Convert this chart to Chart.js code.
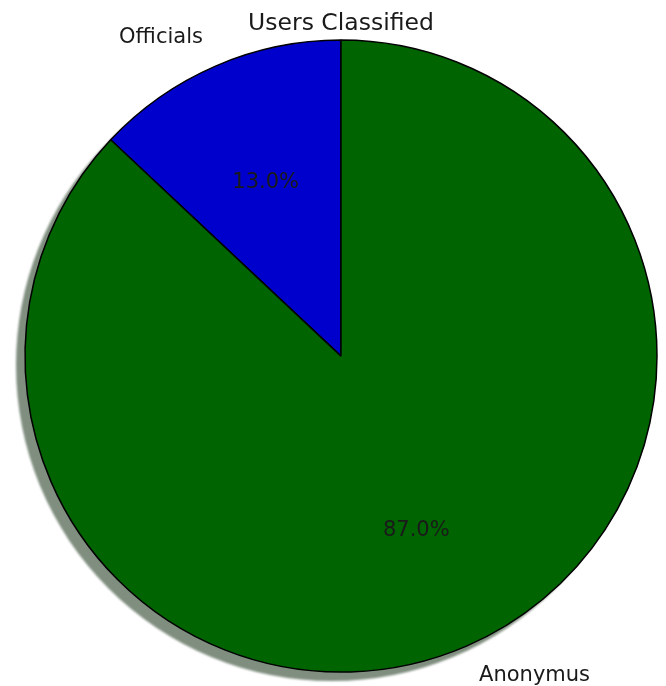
<!DOCTYPE html>
<html>
<head>
<meta charset="utf-8">
<script src="https://cdn.jsdelivr.net/npm/chart.js@4/dist/chart.umd.min.js"></script>
<style>
  html, body { margin: 0; padding: 0; background: #fff; }
  #wrap { width: 666px; height: 686px; }
</style>
</head>
<body>
<div id="wrap"><canvas id="grafico"></canvas></div>
<script>
const categorias = ['Officials', 'Anonymus'];
const valores = [13, 87];
const cores = ['#0000cd', '#006400'];

const total = valores.reduce((a, b) => a + b, 0);
// primeira fatia termina no topo, abrindo para a esquerda
const rotacao = -(valores[0] / total) * 360;

// sombra deslocada para baixo e para a esquerda, por baixo das fatias
const sombra = {
    id: 'sombra',
    beforeDatasetsDraw(chart) {
        const ctx = chart.ctx;
        const arcs = chart.getDatasetMeta(0).data;
        ctx.save();
        ctx.filter = 'blur(1px)';
        ctx.fillStyle = 'rgba(0, 30, 0, 0.5)';
        arcs.forEach(a => {
            const p = a.getProps(['x', 'y', 'startAngle', 'endAngle', 'outerRadius']);
            ctx.beginPath();
            ctx.moveTo(p.x - 9, p.y + 9);
            ctx.arc(p.x - 9, p.y + 9, p.outerRadius, p.startAngle, p.endAngle);
            ctx.closePath();
            ctx.fill();
        });
        ctx.restore();
    }
};

// nomes fora do círculo e percentuais dentro das fatias
const rotulos = {
    id: 'rotulos',
    afterDatasetsDraw(chart) {
        const ctx = chart.ctx;
        const arcs = chart.getDatasetMeta(0).data;
        ctx.save();
        ctx.fillStyle = '#1a1a1a';
        ctx.textBaseline = 'middle';
        ctx.font = '21px "DejaVu Sans"';
        arcs.forEach((a, i) => {
            const p = a.getProps(['x', 'y', 'startAngle', 'endAngle', 'outerRadius']);
            const meio = (p.startAngle + p.endAngle) / 2;
            const cx = Math.cos(meio), cy = Math.sin(meio);
            const r = p.outerRadius;
            ctx.textAlign = cx < 0 ? 'right' : 'left';
            ctx.fillText(categorias[i], p.x + 1.1 * r * cx, p.y + 1.1 * r * cy);
            ctx.textAlign = 'center';
            const pct = (valores[i] / total * 100).toFixed(1) + '%';
            ctx.fillText(pct, p.x + 0.6 * r * cx, p.y + 0.6 * r * cy);
        });
        ctx.restore();
    }
};

new Chart(document.getElementById('grafico'), {
    type: 'pie',
    data: {
        labels: categorias,
        datasets: [{
            data: valores,
            backgroundColor: cores,
            borderColor: '#000',
            borderWidth: 1.5,
        }]
    },
    options: {
        responsive: true,
        maintainAspectRatio: false,
        animation: false,
        rotation: rotacao,
        radius: 316,
        layout: {
            padding: { left: 25, right: 9, top: 0, bottom: 14 }
        },
        plugins: {
            legend: { display: false },
            tooltip: { enabled: false },
            title: {
                display: true,
                text: 'Users Classified',
                color: '#1a1a1a',
                font: { family: 'DejaVu Sans', size: 23.5, weight: 'normal' },
                padding: { top: 10, bottom: 2 }
            }
        }
    },
    plugins: [sombra, rotulos]
});
</script>
</body>
</html>
